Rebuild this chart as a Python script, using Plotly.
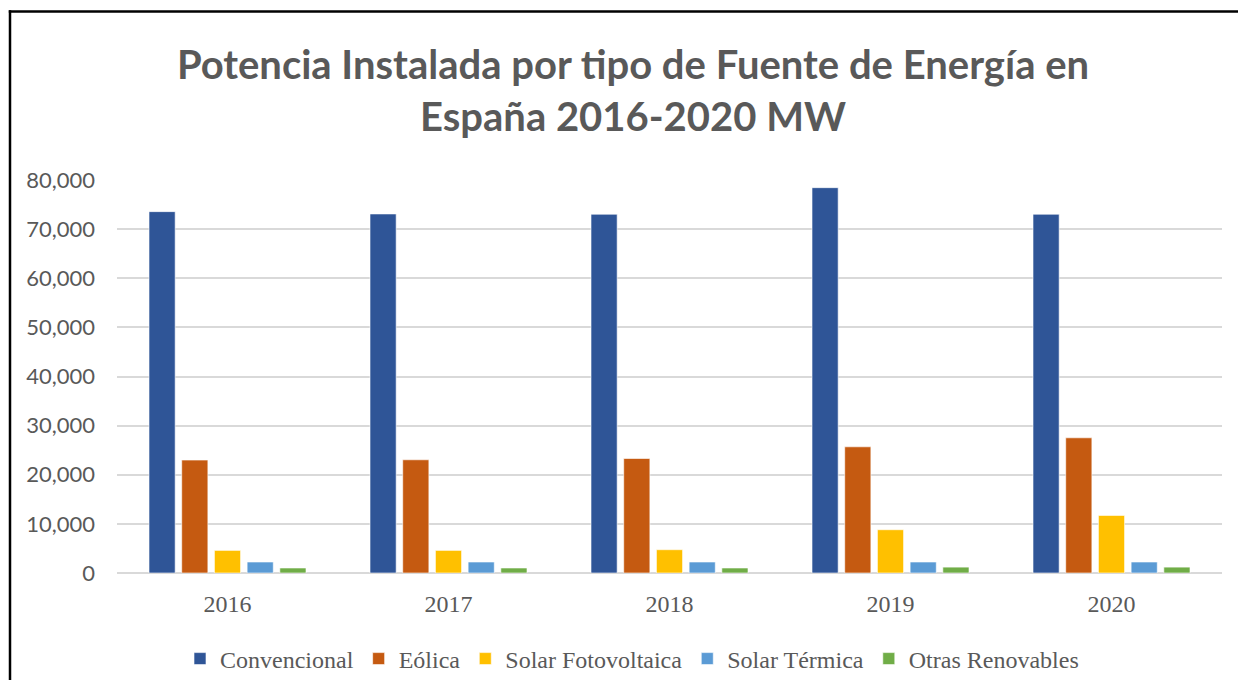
import plotly.graph_objects as go

years = ["2016", "2017", "2018", "2019", "2020"]
series_names = ["Convencional", "Eólica", "Solar Fotovoltaica", "Solar Térmica", "Otras Renovables"]
convencional = [73560, 73090, 73030, 78440, 73030]
eolica = [22990, 23050, 23310, 25690, 27520]
solar_fv = [4600, 4600, 4740, 8810, 11720]
solar_termica = [2240, 2240, 2240, 2240, 2240]
otras_renovables = [1020, 1020, 1020, 1200, 1200]
y_ticks = [0, 10000, 20000, 30000, 40000, 50000, 60000, 70000, 80000]

values = [convencional, eolica, solar_fv, solar_termica, otras_renovables]
colors = ["#2F5597", "#C55A11", "#FFC000", "#5B9BD5", "#70AD47"]

fig = go.Figure()
for name, vals, col in zip(series_names, values, colors):
    fig.add_trace(go.Bar(
        x=years, y=vals, name=name,
        marker=dict(color=col, line=dict(color="rgba(255,255,255,0.6)", width=1)),
    ))

# the page body has an 8px margin, so figure coordinates = screen coordinates - 8
OFF = 8
W, H = 1246 - 2 * OFF, 696 - 3 * OFF
L, R, T, B = 117 - OFF, W - (1222 - OFF), 180 - OFF, H - (573 - OFF)
pw, ph = W - L - R, H - T - B

def px(sx):
    return (sx - OFF - L) / pw

def py(sy):
    return (H - B - (sy - OFF)) / ph

fig.update_layout(
    width=W, height=H,
    margin=dict(l=L, r=R, t=T, b=B),
    paper_bgcolor="white", plot_bgcolor="white",
    barmode="group", bargap=0.26, bargroupgap=0.2,
    title=dict(
        text="Potencia Instalada por tipo de Fuente de Energía en<br>España 2016-2020 MW",
        font=dict(family="Lato", size=40, color="#595959", weight="bold"),
        x=(633 - OFF) / W, xanchor="center", xref="container",
        y=1 - 71 / H, yanchor="top", yref="container",
    ),
    font=dict(family="Liberation Serif", color="#595959"),
    xaxis=dict(
        type="category", showgrid=False, showline=False, ticks="",
        tickfont=dict(family="Liberation Serif", size=24, color="#595959"),
        ticklabelstandoff=14,
    ),
    yaxis=dict(
        range=[0, 80000], tickvals=y_ticks, tickformat=",",
        showgrid=True, gridcolor="#D9D9D9", gridwidth=1.5,
        zeroline=True, zerolinecolor="#D9D9D9", zerolinewidth=1.5,
        showline=False, ticks="",
        tickfont=dict(family="Lato", size=22, color="#595959"),
        ticklabelstandoff=21,
    ),
    legend=dict(
        orientation="h", x=px(632), xanchor="center",
        y=1 - (659 - OFF) / H, yanchor="middle", yref="container",
        font=dict(family="Liberation Serif", size=24, color="#595959"),
        itemclick=False,
    ),
    shapes=[
        dict(type="line", xref="paper", yref="paper",
             x0=px(10), x1=px(10), y0=py(OFF + H), y1=py(10.3),
             line=dict(color="black", width=2.5)),
        dict(type="line", xref="paper", yref="paper",
             x0=px(8.8), x1=px(OFF + W), y0=py(11.5), y1=py(11.5),
             line=dict(color="black", width=2.5)),
    ],
)

fig.write_html("out.html")
